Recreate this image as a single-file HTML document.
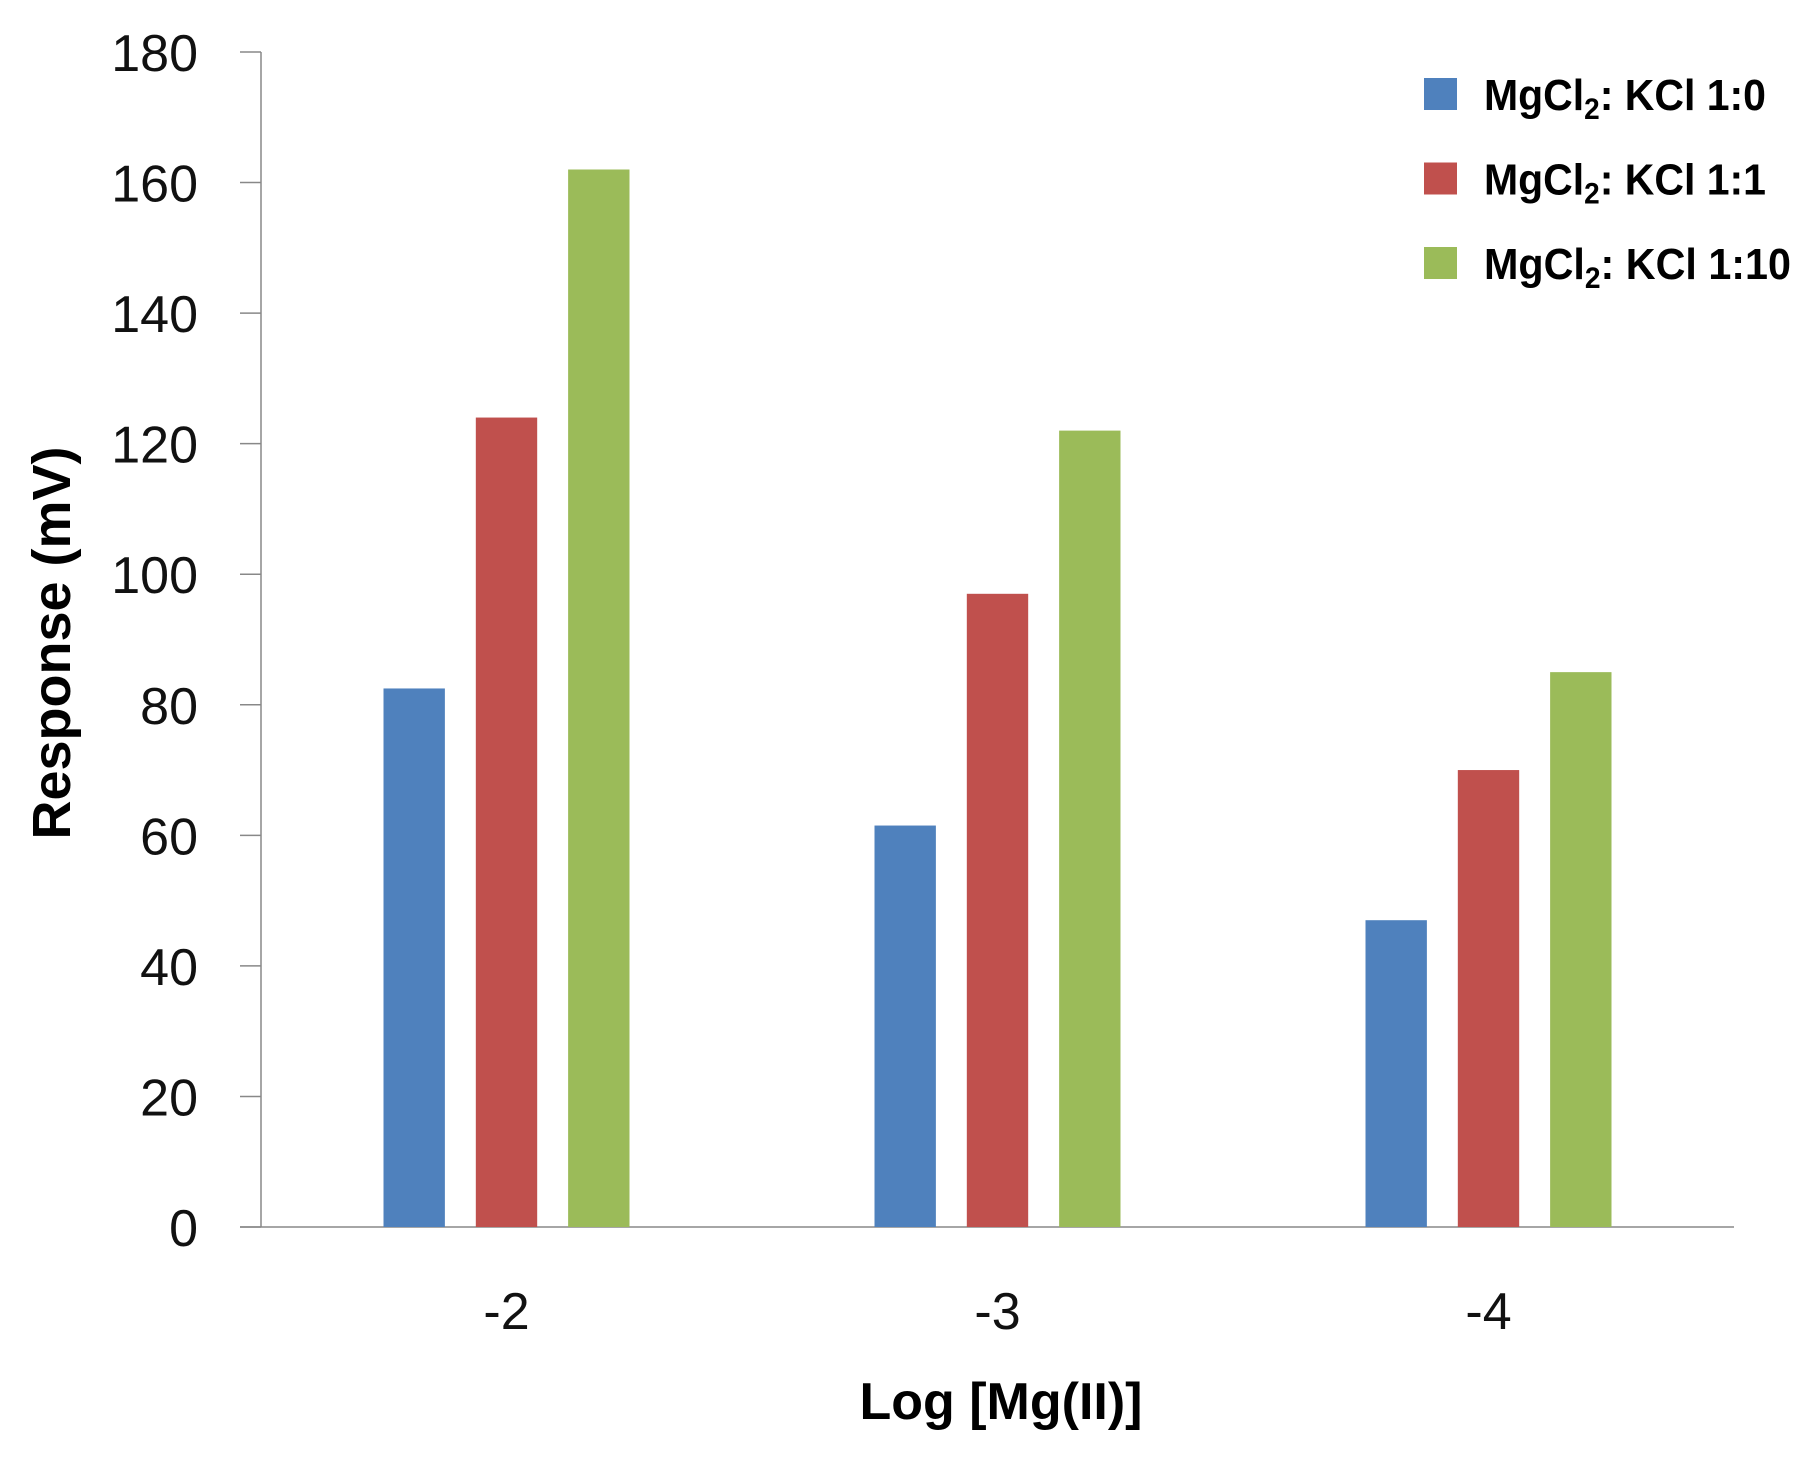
<!DOCTYPE html>
<html><head><meta charset="utf-8"><style>
body{margin:0;background:#fff;}
svg{display:block;font-family:"Liberation Sans",sans-serif;}
</style></head><body>
<svg width="1808" height="1457" viewBox="0 0 1808 1457">
<g id="axes"></g><g id="bars"></g><g id="legend"></g>
<text x="1001" y="1419" text-anchor="middle" font-size="52" font-weight="bold">Log [Mg(II)]</text>
<text transform="translate(70,643) rotate(-90)" text-anchor="middle" font-size="54" font-weight="bold">Response (mV)</text>
</svg>
<script>
const categories = ["-2","-3","-4"];
const seriesNames = ["1:0","1:1","1:10"];
const s1 = [82.5, 61.5, 47];
const s2 = [124, 97, 70];
const s3 = [162, 122, 85];
const yTicks = [0,20,40,60,80,100,120,140,160,180];
const colors = ["#4f81bd","#c0504d","#9bbb59"];
const series=[s1,s2,s3];
const NS="http://www.w3.org/2000/svg";
const L=261,R=1734,T=52,B=1227,YMAX=180;
const y=v=>B-(v/YMAX)*(B-T);
const cw=(R-L)/categories.length;
const xc=i=>L+cw*(i+0.5);
function mk(t,a,p){const e=document.createElementNS(NS,t);for(const k in a)e.setAttribute(k,a[k]);p.appendChild(e);return e;}
const ax=document.getElementById('axes');
let e=mk('line',{x1:L,y1:T,x2:L,y2:B,stroke:'#888','stroke-width':1.5},ax);


e=mk('line',{x1:240,y1:B,x2:R,y2:B,stroke:'#888','stroke-width':1.5},ax);


yTicks.forEach(v=>{
 const t=mk('line',{x1:240,y1:y(v),x2:L,y2:y(v),stroke:'#888','stroke-width':1.5},ax);
 
 
 const l=mk('text',{x:198,y:y(v)+19,'text-anchor':'end','font-size':52,fill:'#111'},ax);
 l.textContent=v;
 
 
});
categories.forEach((c,i)=>{
 const l=mk('text',{x:xc(i),y:1329,'text-anchor':'middle','font-size':52,fill:'#111'},ax);
 l.textContent=c;
 
 
});
const bw=cw*0.125, step=cw*0.188;
const bg=document.getElementById('bars');
series.forEach((s,j)=>s.forEach((v,i)=>{
 const cx=xc(i)+(j-1)*step;
 const r=mk('rect',{x:cx-bw/2,y:y(v),width:bw,height:B-y(v),fill:colors[j]},bg);
 
 
}));
const lg=document.getElementById('legend');
seriesNames.forEach((n,j)=>{
 const yy=78+j*84.5;
 const r=mk('rect',{x:1424,y:yy,width:33,height:32,fill:colors[j]},lg);
 
 
 const t=mk('text',{x:1484,y:yy+32,'font-size':44,'font-weight':'bold',fill:'#000',textLength:n.length>3?307:282,lengthAdjust:'spacingAndGlyphs'},lg);
 t.innerHTML='MgCl<tspan font-size="30" dy="9">2</tspan><tspan dy="-9">: KCl '+n+'</tspan>';
 
 
});
</script>
</body></html>
